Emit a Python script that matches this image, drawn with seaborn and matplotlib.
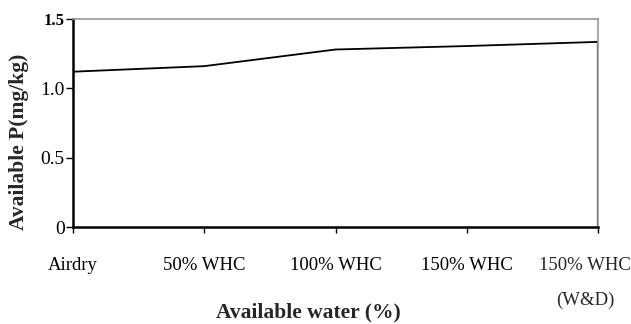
import matplotlib
matplotlib.use('Agg')
import matplotlib.pyplot as plt
import seaborn as sns
import pandas as pd

water = ['Airdry', '50% WHC', '100% WHC', '150% WHC', '150% WHC\n(W&D)']
avail_p = [1.12, 1.16, 1.28, 1.305, 1.335]
y_ticks = [0, 0.5, 1.0, 1.5]
y_labels = ['0', '0.5', '1.0', '1.5']

sns.set_style('white')
plt.rcParams['font.family'] = ['Liberation Serif', 'DejaVu Serif']

df = pd.DataFrame({'pos': range(len(water)), 'p': avail_p})

fig = plt.figure(figsize=(6.31, 3.24), dpi=100)
ax = fig.add_axes([73 / 631, 1 - 227 / 324, 525 / 631, 208 / 324])
sns.lineplot(x='pos', y='p', data=df, color='black', linewidth=1.3, ax=ax)
# drop at the right end, as in the area-style original
ax.vlines(df['pos'].iloc[-1], 0, df['p'].iloc[-1], color='black', linewidth=1.6)

ax.set_xlim(0, len(water) - 1)
ax.set_ylim(0, 1.5)
ax.set_xticks(df['pos'])
# last label is drawn separately so it can sit flush with the right edge
ax.set_xticklabels(water[:-1] + [''], fontsize=13.5, va='top')
ax.annotate(water[-1], xy=(df['pos'].iloc[-1], 0), xycoords=('data', 'axes fraction'),
            xytext=(23.8, -(4.3 + 17)), textcoords='offset points',
            ha='right', va='top', multialignment='center', linespacing=2.4,
            fontsize=13.5, annotation_clip=False)
ax.set_yticks(y_ticks)
ax.set_yticklabels(y_labels, fontsize=14)
top_lbl = ax.get_yticklabels()[-1]
top_lbl.set_fontweight('bold')
top_lbl.set_fontsize(12)

ax.tick_params(axis='x', bottom=True, direction='out', length=4.3, width=1, pad=17, colors='black')
ax.tick_params(axis='y', left=True, direction='out', length=5, width=1, pad=1, colors='black')

for s in ['left', 'bottom']:
    ax.spines[s].set_color('black')
    ax.spines[s].set_linewidth(1.8)
for s in ['top', 'right']:
    ax.spines[s].set_color('#999999')
    ax.spines[s].set_linewidth(1.2)

ax.set_xlabel('Available water (%)', fontsize=15.5, fontweight='bold', va='center')
ax.xaxis.set_label_coords(0.448, -0.413)
ax.set_ylabel('Available P(mg/kg)', fontsize=15.5, fontweight='bold', va='center', ha='center')
ax.yaxis.set_label_coords(-0.102, 0.409)

plt.savefig('out.png', dpi=100)
